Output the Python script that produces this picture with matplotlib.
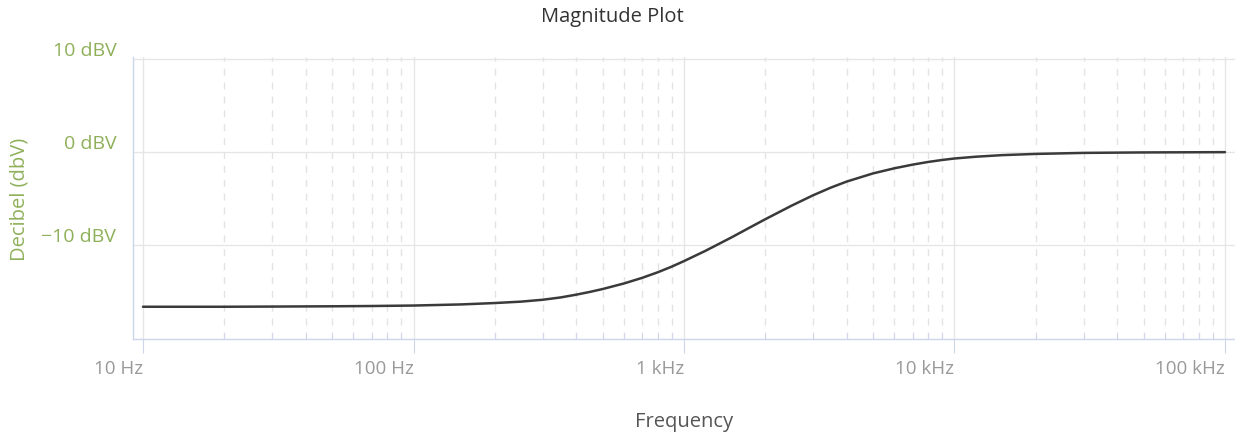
import matplotlib
matplotlib.use('Agg')
import matplotlib.pyplot as plt
from matplotlib.ticker import FixedLocator, LogLocator, NullFormatter
from matplotlib.transforms import ScaledTranslation

plt.rcParams['font.family'] = ['Open Sans', 'DejaVu Sans']

# значения
freq = [10, 20, 30, 50, 70, 100, 150, 200, 250, 300, 350, 400, 450, 500,
        600, 700, 800, 900, 1000, 1200, 1500, 1750, 2000, 2500, 3000, 3500,
        4000, 5000, 6000, 7000, 8000, 9000, 10000, 12000, 15000, 20000,
        30000, 50000, 100000]
db = [-16.6, -16.6, -16.58, -16.55, -16.52, -16.47, -16.35, -16.2, -16.05,
      -15.85, -15.6, -15.3, -15.0, -14.7, -14.1, -13.5, -12.9, -12.3, -11.7,
      -10.6, -9.15, -8.1, -7.2, -5.75, -4.64, -3.8, -3.16, -2.29, -1.74, -1.35,
      -1.06, -0.85, -0.69, -0.5, -0.33, -0.2, -0.09, -0.04, -0.01]

x_ticks = [10, 100, 1000, 10000, 100000]
x_labels = ['10 Hz', '100 Hz', '1 kHz', '10 kHz', '100 kHz']
y_ticks = [-10, 0, 10]
y_labels = ['\u221210 dBV', '0 dBV', '10 dBV']

green = '#8fb05a'
axis_col = '#ccd6eb'
grid_col = '#e6e6e6'

fig = plt.figure(figsize=(12.35, 4.36), dpi=100)
ax = fig.add_axes([133 / 1235, 97 / 436, 1102 / 1235, 282 / 436])

ax.plot(freq, db, color='#3a3a3a', linewidth=1.8, solid_capstyle='round', zorder=3)

ax.set_xscale('log')
ax.set_xlim(10 ** 0.963, 10 ** 5.037)
ax.set_ylim(-20.06, 10.2)

# оси
for s in ['top', 'right']:
    ax.spines[s].set_visible(False)
for s in ['left', 'bottom']:
    ax.spines[s].set_color(axis_col)
    ax.spines[s].set_linewidth(1)

ax.xaxis.set_major_locator(FixedLocator(x_ticks))
ax.set_xticklabels(x_labels, ha='right')
ax.xaxis.set_minor_locator(LogLocator(base=10, subs=range(2, 10)))
ax.xaxis.set_minor_formatter(NullFormatter())
ax.tick_params(axis='x', which='major', length=10, color=axis_col,
               labelsize=13.5, pad=5, labelcolor='#999999')
ax.tick_params(axis='x', which='minor', direction='in', length=4, color=axis_col)

ax.yaxis.set_major_locator(FixedLocator(y_ticks))
ax.set_yticklabels(y_labels)
ax.tick_params(axis='y', which='major', length=0, labelsize=14, pad=12, labelcolor=green)
for lab in ax.get_yticklabels():
    lab.set_transform(lab.get_transform() + ScaledTranslation(0, 10 / 100, fig.dpi_scale_trans))

# сетка
ax.grid(True, which='major', axis='both', color=grid_col, linewidth=1, zorder=0)
ax.grid(True, which='minor', axis='x', color='#e3e3e3', linewidth=1,
        linestyle=(0, (5, 5)), zorder=0)

fig.text(612 / 1235, 1 - 17 / 436, 'Magnitude Plot', fontsize=14.5, color='#333333',
         ha='center', va='center')
fig.text(684 / 1235, 1 - 422 / 436, 'Frequency', fontsize=14.5, color='#555555',
         ha='center', va='center')
fig.text(20 / 1235, 1 - 199 / 436, 'Decibel (dbV)', fontsize=14.5, color=green,
         ha='center', va='center', rotation=90)

fig.savefig('out.png', dpi=100)
